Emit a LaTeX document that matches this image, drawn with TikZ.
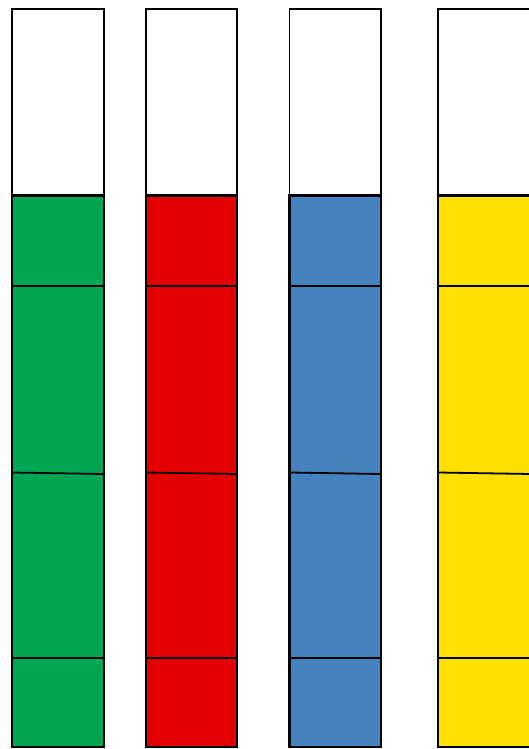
\documentclass[tikz,border=0pt]{standalone}
\definecolor{cgreen}{RGB}{0,166,81}
\definecolor{cred}{RGB}{227,0,0}
\definecolor{cblue}{RGB}{68,130,192}
\definecolor{cyellow}{RGB}{255,224,0}
\tikzset{
  topbox/.style={draw=black, line width=1.5pt, fill=white},
  tube/.style={draw=black, line width=2.4pt},
  divider/.style={draw=black, line width=2.4pt},
  slant/.style={draw=black, line width=1.8pt},
  rim/.style={draw=black, line width=3pt}
}
\begin{document}
\begin{tikzpicture}[x=1pt,y=-1pt]
\useasboundingbox (0,0) rectangle (529,749);
\fill[white] (0,0) rectangle (529,749);
\foreach \l/\r/\c in {12/104/cgreen, 146/237/cred, 289.5/381/cblue, 438/531/cyellow}{
  \draw[topbox] (\l,9) rectangle (\r,195);
  \draw[tube, fill=\c] (\l,195) rectangle (\r,747);
  \draw[divider] (\l,286) -- (\r,286);
  \draw[slant] (\l,472.5) -- (\r,474);
  \draw[divider] (\l,658) -- (\r,658);
  \draw[rim] (\l,195) -- (\r,195);
}
\end{tikzpicture}
\end{document}
